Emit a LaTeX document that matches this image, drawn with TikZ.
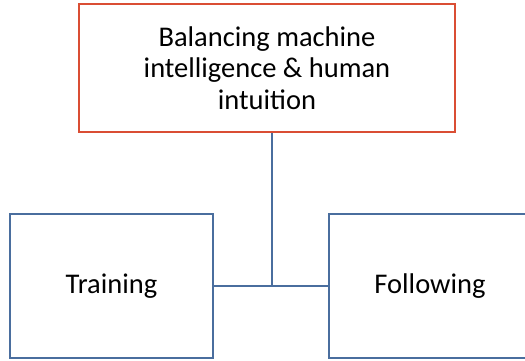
\documentclass[tikz,border=0pt]{standalone}
\usepackage{fontspec}
\setmainfont{Carlito}
\definecolor{boxred}{RGB}{218,78,52}
\definecolor{boxblue}{RGB}{74,110,158}
\begin{document}
\begin{tikzpicture}[x=1pt,y=1pt,
  box/.style={draw, line width=2.6pt, rectangle, inner sep=0pt, align=center, font=\fontsize{28.5}{31.5}\selectfont, text=black},
  redbox/.style={box, draw=boxred},
  bluebox/.style={box, draw=boxblue},
  link/.style={draw=boxblue, line width=2.6pt}]
\useasboundingbox (0,0) rectangle (525,361);
\begin{scope}
\clip (0,0) rectangle (525,361);
\node[redbox, minimum width=376pt, minimum height=128pt] (top) at (267,293) {Balancing machine\\intelligence \& human\\intuition};
\node[bluebox, minimum width=203pt, minimum height=144pt] (train) at (111.5,75) {Training};
\node[bluebox, minimum width=202pt, minimum height=144pt] (follow) at (430,75) {Following};
\coordinate (J) at (272,75);
\draw[link] (train.east) -- (follow.west);
\draw[link] (top.south -| J) -- (J);
\end{scope}
\end{tikzpicture}
\end{document}
